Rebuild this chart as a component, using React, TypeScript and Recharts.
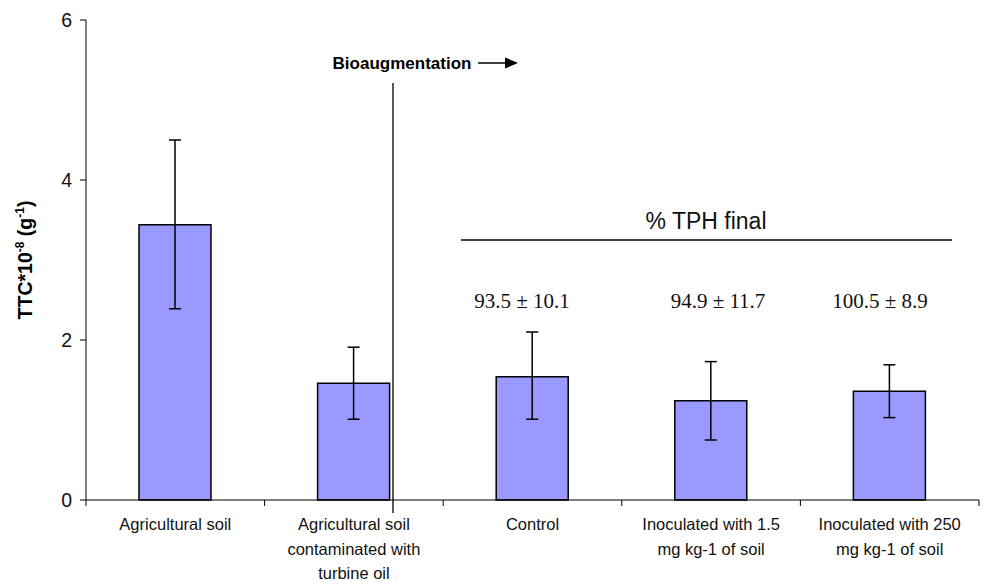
import { Bar, BarChart, ErrorBar, XAxis, YAxis } from "recharts";

const categories = [
  "Agricultural soil",
  "Agricultural soil\ncontaminated with\nturbine oil",
  "Control",
  "Inoculated with 1.5\nmg kg-1 of soil",
  "Inoculated with 250\nmg kg-1 of soil",
];
const ttcValues = [3.44, 1.46, 1.54, 1.24, 1.36];
const errLow = [1.05, 0.45, 0.53, 0.49, 0.33];
const errHigh = [1.06, 0.45, 0.56, 0.49, 0.33];
const yTicks = [0, 2, 4, 6];
const tphTitle = "% TPH final";
const tphLabels = ["93.5 ± 10.1", "94.9 ± 11.7", "100.5 ± 8.9"];

const W = 986;
const H = 584;
const LEFT = 86;
const RIGHT = 7;
const STEP = (W - LEFT - RIGHT) / categories.length;
const SANS = "'Liberation Sans', Arial, sans-serif";
const SERIF = "'Liberation Serif', 'Times New Roman', serif";

const data = categories.map((category, i) => ({
  category,
  ttc: ttcValues[i],
  err: [errLow[i], errHigh[i]],
}));

function CategoryTick(props: any) {
  const { x, y, payload, index } = props;
  const lines = String(payload.value).split("\n");
  const half = STEP / 2;
  return (
    <g>
      <line x1={x - half} x2={x - half} y1={y} y2={y + 6} stroke="#000" />
      {index === categories.length - 1 && (
        <line x1={x + half} x2={x + half} y1={y} y2={y + 6} stroke="#000" />
      )}
      <text x={x} y={y + 30} textAnchor="middle" fontSize={16.5} fill="#111" fontFamily={SANS}>
        {lines.map((line, i) => (
          <tspan key={i} x={x} dy={i === 0 ? 0 : 24.5}>
            {line}
          </tspan>
        ))}
      </text>
    </g>
  );
}

export default function App() {
  return (
    <div style={{ position: "absolute", left: 0, top: 0, width: W, height: H, fontFamily: SANS }}>
      <BarChart
        width={W}
        height={H}
        data={data}
        margin={{ top: 20, right: RIGHT, left: 0, bottom: 0 }}
      >
        <XAxis
          dataKey="category"
          height={84}
          interval={0}
          tickLine={false}
          tickSize={0}
          tickMargin={0}
          axisLine={{ stroke: "#000" }}
          tick={<CategoryTick />}
        />
        <YAxis
          width={LEFT}
          domain={[0, 6]}
          ticks={yTicks}
          tickSize={6}
          tickMargin={8}
          axisLine={{ stroke: "#000" }}
          tickLine={{ stroke: "#000" }}
          tick={{ fill: "#111", fontSize: 19.5, fontFamily: SANS }}
        />
        <Bar
          dataKey="ttc"
          fill="#9999ff"
          stroke="#000"
          strokeWidth={1.5}
          barSize={72}
          isAnimationActive={false}
        >
          <ErrorBar dataKey="err" direction="y" width={6} stroke="#000" strokeWidth={1.5} />
        </Bar>
      </BarChart>
      <svg
        width={W}
        height={H}
        style={{ position: "absolute", left: 0, top: 0, pointerEvents: "none" }}
      >
        <text
          transform="translate(32, 260) rotate(-90)"
          textAnchor="middle"
          fontSize={19.5}
          fontWeight="bold"
          fontFamily={SANS}
          fill="#000"
        >
          TTC*10
          <tspan fontSize={12} dy={-8}>-8</tspan>
          <tspan dy={8}> (g</tspan>
          <tspan fontSize={12} dy={-8}>-1</tspan>
          <tspan dy={8}>)</tspan>
        </text>
        <line x1={393} x2={393} y1={83} y2={513} stroke="#000" strokeWidth={1.3} />
        <text x={402} y={69} textAnchor="middle" fontSize={17} fontWeight="bold" fontFamily={SANS} fill="#000">
          Bioaugmentation
        </text>
        <line x1={478} x2={507} y1={63} y2={63} stroke="#000" strokeWidth={1.5} />
        <polygon points="505,57.5 518,63 505,68.5" fill="#000" />
        <text x={706} y={229} textAnchor="middle" fontSize={23} fontFamily={SANS} fill="#111">
          {tphTitle}
        </text>
        <line x1={461} x2={952} y1={240} y2={240} stroke="#000" strokeWidth={1.5} />
        {tphLabels.map((label, i) => (
          <text
            key={label}
            x={[522, 718, 880][i]}
            y={308}
            textAnchor="middle"
            fontSize={21}
            fontFamily={SERIF}
            fill="#111"
          >
            {label}
          </text>
        ))}
      </svg>
    </div>
  );
}
